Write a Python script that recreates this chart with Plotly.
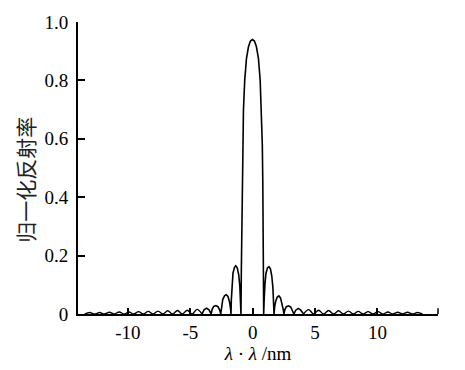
import plotly.graph_objects as go

# central part (main lobe and first side lobes)
x_center = [-4.06, -3.9, -3.7, -3.5, -3.33,
            -3.25, -3.12, -2.95, -2.78, -2.65, -2.56,
            -2.5, -2.4, -2.25, -2.12, -1.98, -1.86, -1.78, -1.74,
            -1.71, -1.66, -1.58, -1.46, -1.36, -1.24, -1.12, -1.03, -0.97, -0.94,
            -0.91, -0.88, -0.85, -0.81, -0.74, -0.64, -0.5, -0.34, -0.18, -0.02,
            0.14, 0.3, 0.46, 0.6, 0.7, 0.77, 0.81, 0.84, 0.86, 0.88,
            0.92, 0.98, 1.06, 1.18, 1.3, 1.42, 1.53, 1.62, 1.68, 1.71,
            1.76, 1.85, 1.97, 2.1, 2.23, 2.35, 2.45, 2.5,
            2.58, 2.7, 2.88, 3.05, 3.18, 3.3,
            3.45, 3.65, 3.85, 4.08]
y_center = [0, 0.014, 0.02, 0.014, 0,
            0.016, 0.026, 0.029, 0.025, 0.014, 0,
            0.03, 0.05, 0.063, 0.066, 0.06, 0.042, 0.02, 0,
            0.05, 0.1, 0.14, 0.16, 0.165, 0.158, 0.135, 0.095, 0.05, 0,
            0.15, 0.3, 0.45, 0.58, 0.7, 0.8, 0.875, 0.915, 0.935, 0.94,
            0.935, 0.915, 0.875, 0.8, 0.7, 0.58, 0.45, 0.3, 0.15, 0,
            0.05, 0.1, 0.138, 0.158, 0.162, 0.155, 0.13, 0.09, 0.045, 0,
            0.025, 0.045, 0.058, 0.062, 0.055, 0.038, 0.015, 0,
            0.015, 0.025, 0.028, 0.024, 0.013, 0,
            0.013, 0.019, 0.013, 0]

# small tail lobes (zeros and peaks)
x_tail_left = [-13.45, -13.06, -12.66, -12.27, -11.88, -11.49, -11.1, -10.7, -10.3, -9.92,
               -9.54, -9.15, -8.76, -8.37, -7.98, -7.59, -7.2, -6.81, -6.42, -6.03,
               -5.64, -5.25, -4.85, -4.46, -4.06]
y_tail_left = [0, 0.005, 0, 0.005, 0, 0.006, 0, 0.007, 0, 0.007,
               0, 0.008, 0, 0.009, 0, 0.01, 0, 0.011, 0, 0.012,
               0, 0.013, 0, 0.016, 0]
x_tail_right = [4.08, 4.48, 4.88, 5.28, 5.68, 6.08, 6.48, 6.88, 7.27, 7.67,
                8.06, 8.46, 8.85, 9.25, 9.64, 10.04, 10.43, 10.83, 11.22, 11.62,
                12.01, 12.41, 12.8, 13.2, 13.6]
y_tail_right = [0, 0.015, 0, 0.013, 0, 0.012, 0, 0.011, 0, 0.01,
                0, 0.009, 0, 0.008, 0, 0.008, 0, 0.007, 0, 0.006,
                0, 0.006, 0, 0.005, 0]

x_ticks = [-10, -5, 0, 5, 10]
x_ticktext = ["-10", "-5", "0", "5", "10"]
y_ticks = [0, 0.2, 0.4, 0.6, 0.8, 1.0]
y_ticktext = ["0", "0.2", "0.4", "0.6", "0.8", "1.0"]

line = dict(color="black", width=1.6)
fig = go.Figure()
fig.add_trace(go.Scatter(x=x_tail_left, y=y_tail_left, mode="lines",
                         line=dict(color="black", width=1.4, shape="spline"), showlegend=False))
fig.add_trace(go.Scatter(x=x_center, y=y_center, mode="lines", line=line, showlegend=False))
fig.add_trace(go.Scatter(x=x_tail_right, y=y_tail_right, mode="lines",
                         line=dict(color="black", width=1.4, shape="spline"), showlegend=False))

serif = "Liberation Serif"
fig.update_layout(
    width=465, height=370,
    margin=dict(l=78, r=27, t=16, b=55),
    paper_bgcolor="white", plot_bgcolor="white",
    font=dict(family=serif, size=19, color="black"),
    xaxis=dict(range=[-14, 14.85], tickvals=x_ticks, ticktext=x_ticktext,
               showline=True, linecolor="black", linewidth=2, showgrid=False, zeroline=False,
               ticks="inside", ticklen=6, tickwidth=1.5, tickcolor="black",
               tickfont=dict(family=serif, size=19),
               title=dict(text="<i>λ</i> · <i>λ</i> /nm", font=dict(family=serif, size=19), standoff=2)),
    yaxis=dict(range=[0, 1.0], tickvals=y_ticks, ticktext=y_ticktext,
               showline=True, linecolor="black", linewidth=2, showgrid=False, zeroline=False,
               ticks="inside", ticklen=7, tickwidth=1.5, tickcolor="black",
               tickfont=dict(family=serif, size=19), ticklabelstandoff=4),
    annotations=[dict(text="归一化反射率", xref="paper", yref="paper", x=-0.147, y=0.46,
                      xanchor="center", yanchor="middle", textangle=-90, showarrow=False,
                      font=dict(family="Noto Sans CJK SC", size=21, color="#222"))],
    shapes=[dict(type="line", xref="paper", yref="y", x0=1, x1=1, y0=0, y1=0.02,
                 line=dict(color="black", width=1.5))],
)

fig.write_html("out.html")
